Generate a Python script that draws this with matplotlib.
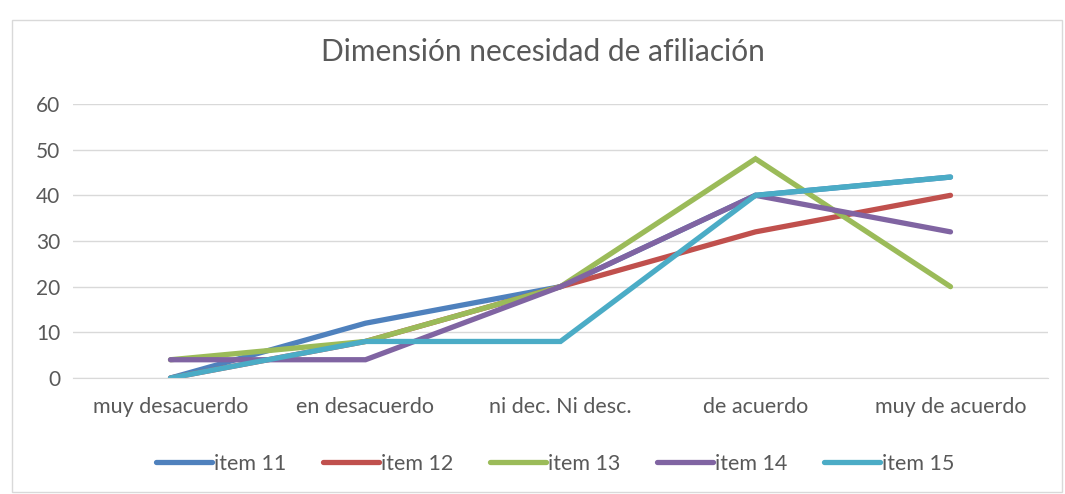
import matplotlib
matplotlib.use("Agg")
import matplotlib.pyplot as plt
from matplotlib.patches import Rectangle

categories = ["muy desacuerdo", "en desacuerdo", "ni dec. Ni desc.", "de acuerdo", "muy de acuerdo"]
item11 = [0, 12, 20, 40, 44]
item12 = [0, 8, 20, 32, 40]
item13 = [4, 8, 20, 48, 20]
item14 = [4, 4, 20, 40, 32]
item15 = [0, 8, 8, 40, 44]
series_names = ["item 11", "item 12", "item 13", "item 14", "item 15"]
colors = ["#4F81BD", "#C0504D", "#9BBB59", "#8064A2", "#4BACC6"]
yticks = [0, 10, 20, 30, 40, 50, 60]

plt.rcParams['font.family'] = ['Lato', 'DejaVu Sans']
txt = "#595959"

fig = plt.figure(figsize=(10.65, 4.94), dpi=100)
fig.patches.append(Rectangle((12/1065, 2/494), (1062-12)/1065, (482-10)/494,
                             transform=fig.transFigure, fill=False,
                             edgecolor="#D9D9D9", linewidth=1))
ax = fig.add_axes([73/1065, 1-378/494, (1048-73)/1065, (378-104)/494])

x = list(range(len(categories)))
for name, vals, c in zip(series_names, [item11, item12, item13, item14, item15], colors):
    ax.plot(x, vals, color=c, linewidth=3.8, label=name, solid_capstyle="round",
            solid_joinstyle="miter")

ax.set_xlim(-0.5, len(categories) - 0.5)
ax.set_ylim(0, 60)
ax.set_yticks(yticks)
ax.set_xticks(x)
ax.set_xticklabels(categories, fontsize=15.5, color=txt)
ax.tick_params(axis="y", labelsize=15, labelcolor=txt, length=0, pad=9)
ax.tick_params(axis="x", length=0, pad=14)
ax.grid(axis="y", color="#D9D9D9", linewidth=1)
ax.set_axisbelow(True)
for s in ["top", "right", "left"]:
    ax.spines[s].set_visible(False)
ax.spines["bottom"].set_color("#D9D9D9")

fig.text(543/1065, 1-52/494, "Dimensión necesidad de afiliación", ha="center", va="center",
         fontsize=21.5, color=txt)

leg = fig.legend(loc="center", bbox_to_anchor=(555/1065, 1-464/494), ncol=5, frameon=False,
                 fontsize=15.5, handlelength=2.6, handletextpad=0.1, columnspacing=1.7)
for t in leg.get_texts():
    t.set_color(txt)

fig.savefig("out.png", dpi=100)
